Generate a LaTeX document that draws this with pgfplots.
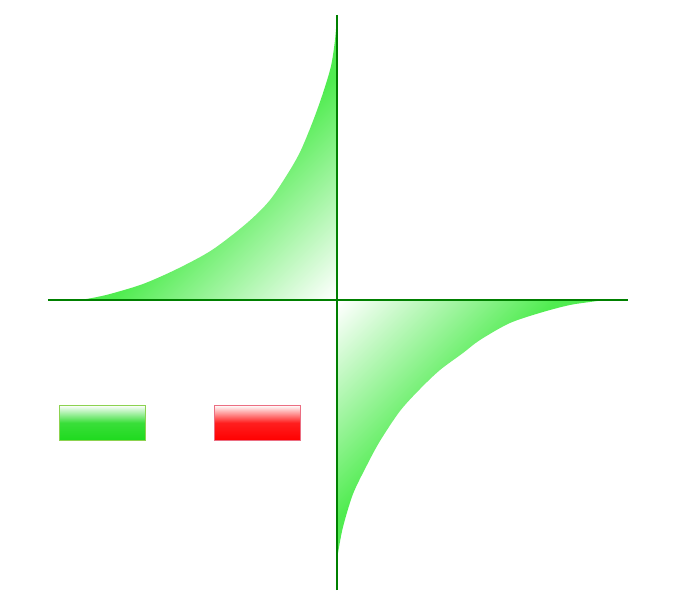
\documentclass[border=0pt]{standalone}
\usepackage{pgfplots}
\pgfplotsset{compat=1.18}
\definecolor{fillgreen}{RGB}{80,236,80}
\definecolor{axgreen}{RGB}{0,128,0}
\definecolor{lgreen}{RGB}{30,218,30}
\definecolor{lgborder}{RGB}{140,210,80}
\definecolor{lred}{RGB}{255,0,0}
\definecolor{lrborder}{RGB}{235,110,130}
\pgfdeclareverticalshading{quadshade}{100bp}{color(0bp)=(white); color(15bp)=(white); color(44bp)=(fillgreen); color(100bp)=(fillgreen)}
\begin{document}
\begin{tikzpicture}
\begin{axis}[
  scale only axis, width=580pt, height=575pt,
  xmin=-289, xmax=291, ymin=-290, ymax=285,
  axis lines=middle,
  axis line style={-, draw=axgreen, line width=1.2pt},
  xtick=\empty, ytick=\empty,
  axis on top,
  legend columns=2,
  legend style={at={(0.019,0.322)}, anchor=north west, draw=none, fill=none,
    inner sep=0pt, outer sep=0pt, nodes={inner sep=0pt, outer sep=0pt},
    /tikz/column sep=0pt,
    /tikz/every even column/.append style={column sep=67pt}},
]
\addplot[draw=none, smooth, shade, shading=quadshade, shading angle=45,
  legend image code/.code={\shade[top color=white, bottom color=lgreen, middle color=lgreen!88!white, draw=lgborder, line width=0.8pt] (0pt,-17.5pt) rectangle (86pt,17.5pt);}]
coordinates {
(-257,0) (-245,2) (-227,6) (-194,16) (-160,31) (-125,50) (-90,77) (-67,100) (-47,130)
(-36,150) (-24,179) (-14,207) (-6,234) (-2,260) (0,285)
} \closedcycle;
\addlegendentry{}
\addplot[draw=none, smooth, shade, shading=quadshade, shading angle=225, forget plot]
coordinates {
(0,-260) (1,-253) (6,-227) (16,-194) (30,-165) (43,-141) (63,-111) (83,-89)
(103,-70) (126,-53) (143,-40) (173,-23) (206,-12) (233,-5) (253,-2) (268,0)
} \closedcycle;
\addlegendimage{legend image code/.code={\shade[top color=white, bottom color=lred, middle color=lred!88!white, draw=lrborder, line width=0.8pt] (0pt,-17.5pt) rectangle (86pt,17.5pt);}}
\addlegendentry{}
\end{axis}
\pgfresetboundingbox
\path[use as bounding box] (-48pt,-17pt) rectangle (628pt,590pt);
\end{tikzpicture}
\end{document}
